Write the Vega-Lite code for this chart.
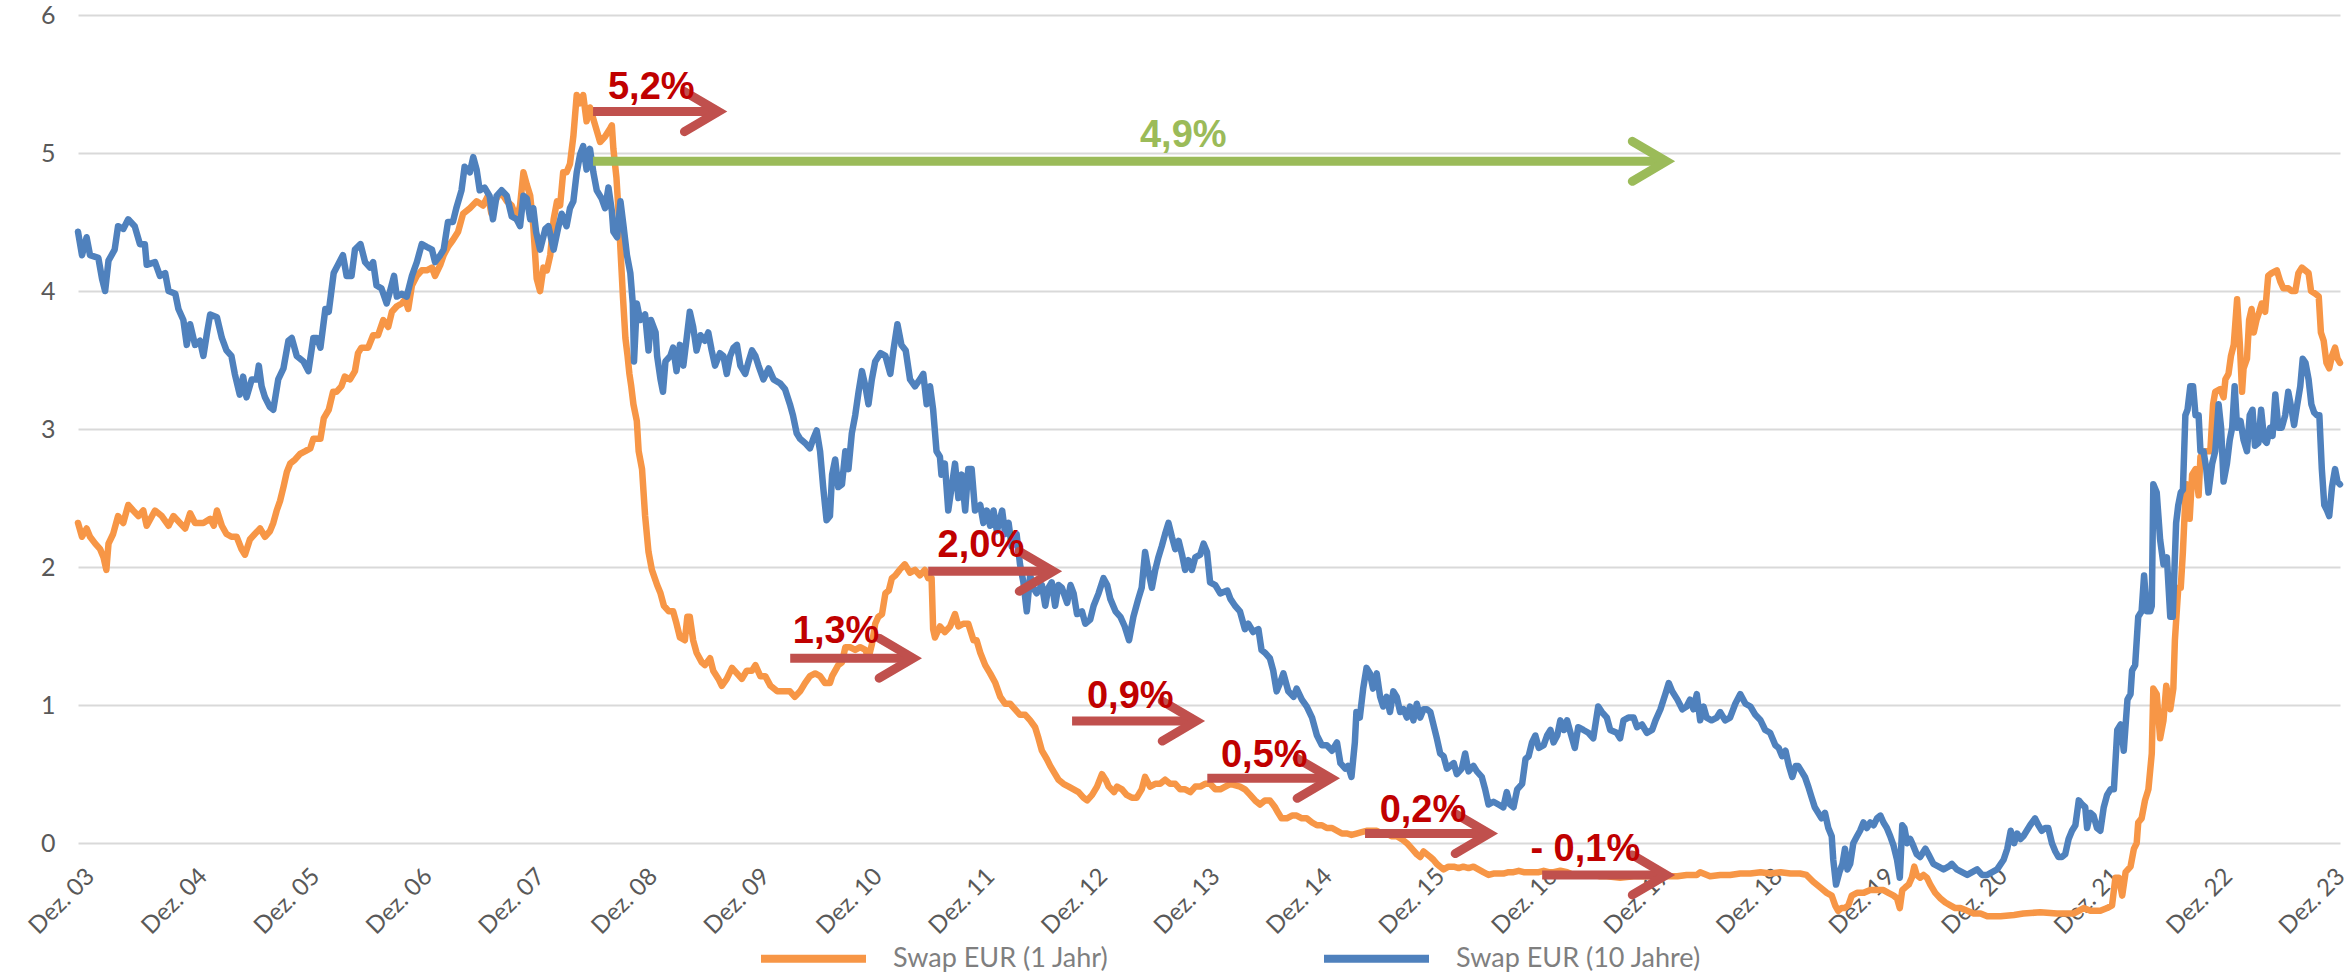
{
"$schema":"https://vega.github.io/schema/vega-lite/v6.json",
"width":2262,"height":911,
"autosize":{"type":"none"},
"padding":{"left":78,"top":15,"right":11,"bottom":49},
"background":"white",
"config":{"view":{"stroke":null},"font":"Lato"},
"datasets":{
"o":[
{"d":"2003-11-18","v":2.32},{"d":"2003-12-01","v":2.22},{"d":"2003-12-16","v":2.28},{"d":"2003-12-27","v":2.22},{"d":"2004-01-13","v":2.17},{"d":"2004-01-29","v":2.13},{"d":"2004-02-09","v":2.07},{"d":"2004-02-18","v":1.98},{"d":"2004-02-25","v":2.17},{"d":"2004-03-11","v":2.24},{"d":"2004-03-27","v":2.37},{"d":"2004-04-13","v":2.32},{"d":"2004-04-29","v":2.45},{"d":"2004-05-15","v":2.41},{"d":"2004-06-01","v":2.37},{"d":"2004-06-17","v":2.41},{"d":"2004-06-28","v":2.30},{"d":"2004-07-25","v":2.41},{"d":"2004-08-16","v":2.37},{"d":"2004-09-07","v":2.30},{"d":"2004-09-23","v":2.37},{"d":"2004-10-14","v":2.32},{"d":"2004-10-31","v":2.28},{"d":"2004-11-16","v":2.39},{"d":"2004-12-02","v":2.32},{"d":"2004-12-29","v":2.32},{"d":"2005-01-20","v":2.35},{"d":"2005-02-01","v":2.30},{"d":"2005-02-11","v":2.41},{"d":"2005-02-27","v":2.30},{"d":"2005-03-14","v":2.24},{"d":"2005-03-30","v":2.22},{"d":"2005-04-16","v":2.22},{"d":"2005-05-02","v":2.13},{"d":"2005-05-13","v":2.09},{"d":"2005-05-29","v":2.20},{"d":"2005-06-14","v":2.24},{"d":"2005-07-01","v":2.28},{"d":"2005-07-17","v":2.22},{"d":"2005-08-02","v":2.26},{"d":"2005-08-13","v":2.32},{"d":"2005-08-24","v":2.41},{"d":"2005-09-04","v":2.48},{"d":"2005-09-15","v":2.58},{"d":"2005-09-26","v":2.69},{"d":"2005-10-07","v":2.75},{"d":"2005-10-23","v":2.78},{"d":"2005-11-08","v":2.82},{"d":"2005-11-25","v":2.84},{"d":"2005-12-11","v":2.86},{"d":"2005-12-21","v":2.93},{"d":"2006-01-13","v":2.93},{"d":"2006-01-24","v":3.08},{"d":"2006-02-09","v":3.14},{"d":"2006-02-23","v":3.27},{"d":"2006-03-06","v":3.27},{"d":"2006-03-22","v":3.31},{"d":"2006-04-02","v":3.38},{"d":"2006-04-19","v":3.36},{"d":"2006-05-05","v":3.42},{"d":"2006-05-15","v":3.55},{"d":"2006-05-26","v":3.59},{"d":"2006-06-17","v":3.59},{"d":"2006-07-03","v":3.68},{"d":"2006-07-19","v":3.68},{"d":"2006-08-05","v":3.79},{"d":"2006-08-21","v":3.74},{"d":"2006-09-02","v":3.85},{"d":"2006-09-18","v":3.89},{"d":"2006-10-04","v":3.91},{"d":"2006-10-15","v":3.94},{"d":"2006-10-25","v":3.87},{"d":"2006-11-06","v":4.04},{"d":"2006-11-22","v":4.11},{"d":"2006-12-08","v":4.15},{"d":"2006-12-24","v":4.15},{"d":"2007-01-10","v":4.17},{"d":"2007-01-20","v":4.11},{"d":"2007-02-06","v":4.19},
{"d":"2007-02-17","v":4.26},{"d":"2007-03-03","v":4.32},{"d":"2007-03-19","v":4.37},{"d":"2007-04-05","v":4.43},{"d":"2007-04-21","v":4.56},{"d":"2007-05-13","v":4.60},{"d":"2007-06-04","v":4.65},{"d":"2007-06-25","v":4.62},{"d":"2007-07-11","v":4.69},{"d":"2007-07-22","v":4.56},{"d":"2007-08-02","v":4.65},{"d":"2007-08-13","v":4.69},{"d":"2007-08-24","v":4.71},{"d":"2007-09-10","v":4.65},{"d":"2007-09-26","v":4.62},{"d":"2007-10-12","v":4.52},{"d":"2007-10-23","v":4.62},{"d":"2007-11-03","v":4.86},{"d":"2007-11-14","v":4.77},{"d":"2007-11-25","v":4.69},{"d":"2007-12-05","v":4.47},{"d":"2007-12-16","v":4.09},{"d":"2007-12-27","v":4.00},{"d":"2008-01-07","v":4.17},{"d":"2008-01-18","v":4.15},{"d":"2008-01-29","v":4.26},{"d":"2008-02-09","v":4.52},{"d":"2008-02-20","v":4.65},{"d":"2008-03-01","v":4.62},{"d":"2008-03-11","v":4.86},{"d":"2008-03-22","v":4.86},{"d":"2008-04-02","v":4.92},{"d":"2008-04-13","v":5.12},{"d":"2008-04-24","v":5.42},{"d":"2008-05-05","v":5.36},{"d":"2008-05-15","v":5.42},{"d":"2008-05-26","v":5.23},{"d":"2008-06-06","v":5.33},{"d":"2008-06-23","v":5.20},{"d":"2008-07-09","v":5.08},{"d":"2008-07-25","v":5.12},{"d":"2008-08-11","v":5.18},{"d":"2008-08-16","v":5.20},{"d":"2008-08-21","v":5.03},{"d":"2008-08-31","v":4.82},{"d":"2008-09-07","v":4.56},{"d":"2008-09-13","v":4.30},{"d":"2008-09-21","v":3.96},{"d":"2008-09-29","v":3.66},{"d":"2008-10-06","v":3.53},{"d":"2008-10-12","v":3.40},{"d":"2008-10-18","v":3.31},{"d":"2008-10-25","v":3.18},{"d":"2008-11-05","v":3.06},{"d":"2008-11-11","v":2.84},{"d":"2008-11-22","v":2.71},{"d":"2008-12-02","v":2.37},{"d":"2008-12-13","v":2.11},{"d":"2008-12-24","v":1.98},{"d":"2009-01-10","v":1.87},{"d":"2009-01-21","v":1.81},{"d":"2009-02-01","v":1.72},{"d":"2009-02-17","v":1.68},{"d":"2009-03-03","v":1.68},{"d":"2009-03-14","v":1.59},{"d":"2009-03-25","v":1.49},{"d":"2009-04-10","v":1.47},{"d":"2009-04-18","v":1.64},{"d":"2009-04-26","v":1.64},{"d":"2009-05-07","v":1.47},{"d":"2009-05-18","v":1.38},{"d":"2009-06-04","v":1.31},{"d":"2009-06-14","v":1.29},{"d":"2009-07-01","v":1.34},{"d":"2009-07-11","v":1.25},{"d":"2009-07-28","v":1.19},{"d":"2009-08-08","v":1.14},{"d":"2009-08-24","v":1.19},{"d":"2009-09-10","v":1.27},{"d":"2009-09-26","v":1.23},{"d":"2009-10-12","v":1.19},{"d":"2009-10-28","v":1.25},{"d":"2009-11-14","v":1.25},{"d":"2009-11-25","v":1.29},{"d":"2009-12-11","v":1.21},{"d":"2009-12-27","v":1.21},{"d":"2010-01-13","v":1.14},{"d":"2010-02-04","v":1.10},{"d":"2010-02-25","v":1.10},{"d":"2010-03-17","v":1.10},{"d":"2010-04-02","v":1.06},{"d":"2010-04-19","v":1.10},{"d":"2010-05-05","v":1.16},{"d":"2010-05-21","v":1.21},{"d":"2010-06-07","v":1.23},{"d":"2010-06-23","v":1.21},{"d":"2010-07-09","v":1.16},{"d":"2010-07-25","v":1.16},
{"d":"2010-08-01","v":1.21},{"d":"2010-08-11","v":1.25},{"d":"2010-08-21","v":1.29},{"d":"2010-09-02","v":1.31},{"d":"2010-09-13","v":1.42},{"d":"2010-09-28","v":1.42},{"d":"2010-10-15","v":1.40},{"d":"2010-10-31","v":1.42},{"d":"2010-11-17","v":1.40},{"d":"2010-11-27","v":1.34},{"d":"2010-12-08","v":1.44},{"d":"2010-12-19","v":1.59},{"d":"2010-12-29","v":1.64},{"d":"2011-01-10","v":1.66},{"d":"2011-01-21","v":1.81},{"d":"2011-02-01","v":1.83},{"d":"2011-02-11","v":1.92},{"d":"2011-02-22","v":1.94},{"d":"2011-03-08","v":1.98},{"d":"2011-03-25","v":2.02},{"d":"2011-04-11","v":1.96},{"d":"2011-04-27","v":1.98},{"d":"2011-05-13","v":1.94},{"d":"2011-05-29","v":1.98},{"d":"2011-06-09","v":1.92},{"d":"2011-06-20","v":1.92},{"d":"2011-06-25","v":1.55},{"d":"2011-07-01","v":1.49},{"d":"2011-07-17","v":1.57},{"d":"2011-08-02","v":1.53},{"d":"2011-08-19","v":1.57},{"d":"2011-09-04","v":1.66},{"d":"2011-09-15","v":1.57},{"d":"2011-10-01","v":1.59},{"d":"2011-10-17","v":1.59},{"d":"2011-11-03","v":1.47},{"d":"2011-11-13","v":1.47},{"d":"2011-11-25","v":1.38},{"d":"2011-12-11","v":1.29},{"d":"2011-12-27","v":1.23},{"d":"2012-01-13","v":1.16},{"d":"2012-01-29","v":1.06},{"d":"2012-02-14","v":1.01},{"d":"2012-03-01","v":1.01},{"d":"2012-03-17","v":0.97},{"d":"2012-04-02","v":0.93},{"d":"2012-04-19","v":0.93},{"d":"2012-05-05","v":0.89},{"d":"2012-05-21","v":0.84},{"d":"2012-06-01","v":0.76},{"d":"2012-06-12","v":0.67},{"d":"2012-06-28","v":0.61},{"d":"2012-07-09","v":0.56},{"d":"2012-07-25","v":0.50},{"d":"2012-08-05","v":0.46},{"d":"2012-08-21","v":0.43},{"d":"2012-09-07","v":0.41},{"d":"2012-09-23","v":0.39},{"d":"2012-10-09","v":0.37},{"d":"2012-10-25","v":0.33},{"d":"2012-11-06","v":0.31},{"d":"2012-11-22","v":0.35},{"d":"2012-12-08","v":0.41},{"d":"2012-12-24","v":0.50},{"d":"2013-01-05","v":0.46},{"d":"2013-01-15","v":0.41},{"d":"2013-02-01","v":0.37},{"d":"2013-02-11","v":0.41},{"d":"2013-02-27","v":0.39},{"d":"2013-03-14","v":0.35},{"d":"2013-03-31","v":0.33},{"d":"2013-04-16","v":0.33},{"d":"2013-05-02","v":0.39},{"d":"2013-05-13","v":0.48},{"d":"2013-05-29","v":0.41},{"d":"2013-06-15","v":0.43},{"d":"2013-07-01","v":0.43},{"d":"2013-07-17","v":0.46},{"d":"2013-08-02","v":0.43},{"d":"2013-08-19","v":0.43},{"d":"2013-09-04","v":0.39},{"d":"2013-09-20","v":0.39},{"d":"2013-10-07","v":0.37},{"d":"2013-10-23","v":0.41},{"d":"2013-11-08","v":0.41},{"d":"2013-11-24","v":0.43},{"d":"2013-12-10","v":0.43},{"d":"2013-12-27","v":0.39},{"d":"2014-01-12","v":0.39},
{"d":"2014-02-14","v":0.43},{"d":"2014-03-17","v":0.41},{"d":"2014-04-02","v":0.39},{"d":"2014-04-19","v":0.35},{"d":"2014-05-05","v":0.31},{"d":"2014-05-21","v":0.28},{"d":"2014-06-06","v":0.31},{"d":"2014-06-22","v":0.31},{"d":"2014-07-09","v":0.26},{"d":"2014-07-19","v":0.22},{"d":"2014-07-30","v":0.18},{"d":"2014-08-16","v":0.18},{"d":"2014-09-02","v":0.20},{"d":"2014-09-17","v":0.20},{"d":"2014-10-04","v":0.18},{"d":"2014-10-20","v":0.18},{"d":"2014-11-06","v":0.15},{"d":"2014-11-22","v":0.13},{"d":"2014-12-08","v":0.13},{"d":"2014-12-24","v":0.11},{"d":"2015-01-10","v":0.11},{"d":"2015-01-26","v":0.09},{"d":"2015-02-11","v":0.07},{"d":"2015-02-28","v":0.07},{"d":"2015-03-14","v":0.06},{"d":"2015-03-30","v":0.07},{"d":"2015-04-16","v":0.08},{"d":"2015-05-02","v":0.09},{"d":"2015-05-18","v":0.09},{"d":"2015-06-04","v":0.09},{"d":"2015-06-20","v":0.07},{"d":"2015-07-06","v":0.07},{"d":"2015-07-22","v":0.05},{"d":"2015-08-08","v":0.05},{"d":"2015-08-24","v":0.03},{"d":"2015-09-10","v":0.00},{"d":"2015-09-26","v":-0.04},{"d":"2015-10-12","v":-0.08},{"d":"2015-10-23","v":-0.10},{"d":"2015-11-03","v":-0.06},{"d":"2015-11-14","v":-0.08},{"d":"2015-11-25","v":-0.10},{"d":"2015-12-05","v":-0.12},{"d":"2015-12-16","v":-0.15},{"d":"2015-12-27","v":-0.17},{"d":"2016-01-07","v":-0.19},{"d":"2016-01-23","v":-0.17},{"d":"2016-02-09","v":-0.17},{"d":"2016-02-25","v":-0.18},{"d":"2016-03-11","v":-0.17},{"d":"2016-03-28","v":-0.18},{"d":"2016-04-13","v":-0.17},{"d":"2016-04-29","v":-0.19},{"d":"2016-05-15","v":-0.21},{"d":"2016-06-01","v":-0.23},{"d":"2016-06-17","v":-0.22},{"d":"2016-07-03","v":-0.22},{"d":"2016-07-19","v":-0.22},{"d":"2016-08-05","v":-0.21},{"d":"2016-08-21","v":-0.21},{"d":"2016-09-07","v":-0.20},{"d":"2016-09-23","v":-0.21},{"d":"2016-10-09","v":-0.21},{"d":"2016-10-25","v":-0.21},{"d":"2016-11-11","v":-0.21},{"d":"2016-11-27","v":-0.20},{"d":"2016-12-13","v":-0.21},{"d":"2016-12-29","v":-0.21},{"d":"2017-01-20","v":-0.20},{"d":"2017-02-11","v":-0.21},{"d":"2017-03-03","v":-0.23},{"d":"2017-03-25","v":-0.23},{"d":"2017-04-16","v":-0.23},{"d":"2017-05-07","v":-0.23},{"d":"2017-05-29","v":-0.24},{"d":"2017-06-20","v":-0.24},
{"d":"2017-08-02","v":-0.25},{"d":"2017-09-15","v":-0.24},{"d":"2017-10-17","v":-0.24},{"d":"2017-11-20","v":-0.24},{"d":"2018-01-02","v":-0.24},{"d":"2018-02-04","v":-0.24},{"d":"2018-03-06","v":-0.23},{"d":"2018-04-08","v":-0.23},{"d":"2018-04-19","v":-0.21},{"d":"2018-05-21","v":-0.24},{"d":"2018-06-23","v":-0.23},{"d":"2018-07-25","v":-0.23},{"d":"2018-08-27","v":-0.22},{"d":"2018-09-29","v":-0.22},{"d":"2018-11-01","v":-0.21},{"d":"2018-12-02","v":-0.22},{"d":"2019-01-05","v":-0.21},{"d":"2019-02-06","v":-0.22},{"d":"2019-03-09","v":-0.22},{"d":"2019-03-30","v":-0.23},{"d":"2019-04-21","v":-0.28},{"d":"2019-05-13","v":-0.32},{"d":"2019-06-04","v":-0.36},{"d":"2019-06-20","v":-0.38},{"d":"2019-07-01","v":-0.45},{"d":"2019-07-11","v":-0.49},{"d":"2019-07-22","v":-0.47},{"d":"2019-08-02","v":-0.47},{"d":"2019-08-13","v":-0.45},{"d":"2019-08-24","v":-0.38},{"d":"2019-09-10","v":-0.36},{"d":"2019-10-01","v":-0.36},{"d":"2019-10-23","v":-0.34},{"d":"2019-11-14","v":-0.34},{"d":"2019-12-05","v":-0.34},{"d":"2019-12-21","v":-0.36},{"d":"2020-01-07","v":-0.38},{"d":"2020-01-18","v":-0.40},{"d":"2020-01-27","v":-0.47},{"d":"2020-02-04","v":-0.34},{"d":"2020-02-14","v":-0.32},{"d":"2020-02-25","v":-0.30},{"d":"2020-03-06","v":-0.25},{"d":"2020-03-14","v":-0.17},{"d":"2020-03-22","v":-0.23},{"d":"2020-04-02","v":-0.25},{"d":"2020-04-13","v":-0.23},{"d":"2020-04-24","v":-0.25},{"d":"2020-05-05","v":-0.30},{"d":"2020-05-21","v":-0.36},{"d":"2020-06-07","v":-0.40},{"d":"2020-06-23","v":-0.43},{"d":"2020-07-09","v":-0.45},{"d":"2020-07-25","v":-0.47},{"d":"2020-08-11","v":-0.47},{"d":"2020-09-02","v":-0.49},{"d":"2020-09-23","v":-0.51},{"d":"2020-10-15","v":-0.51},{"d":"2020-11-06","v":-0.53},{"d":"2020-11-27","v":-0.53},{"d":"2020-12-19","v":-0.53},
{"d":"2021-02-01","v":-0.52},{"d":"2021-03-03","v":-0.51},{"d":"2021-04-27","v":-0.50},{"d":"2021-06-20","v":-0.51},{"d":"2021-08-13","v":-0.51},{"d":"2021-09-15","v":-0.47},{"d":"2021-10-07","v":-0.49},{"d":"2021-11-08","v":-0.49},{"d":"2021-11-30","v":-0.47},{"d":"2021-12-16","v":-0.45},{"d":"2021-12-27","v":-0.25},{"d":"2022-01-07","v":-0.25},{"d":"2022-01-18","v":-0.38},{"d":"2022-01-29","v":-0.21},{"d":"2022-02-14","v":-0.17},{"d":"2022-02-25","v":-0.04},{"d":"2022-03-06","v":0.00},{"d":"2022-03-11","v":0.15},{"d":"2022-03-22","v":0.18},{"d":"2022-04-02","v":0.31},{"d":"2022-04-13","v":0.39},{"d":"2022-04-24","v":0.65},{"d":"2022-04-29","v":1.12},{"d":"2022-05-10","v":1.08},{"d":"2022-05-21","v":0.76},{"d":"2022-06-01","v":0.89},{"d":"2022-06-10","v":1.14},{"d":"2022-06-23","v":0.97},{"d":"2022-07-03","v":1.12},{"d":"2022-07-08","v":1.47},{"d":"2022-07-19","v":1.85},{"d":"2022-07-27","v":1.85},{"d":"2022-08-03","v":2.11},{"d":"2022-08-11","v":2.50},{"d":"2022-08-16","v":2.60},{"d":"2022-08-25","v":2.35},{"d":"2022-09-02","v":2.67},{"d":"2022-09-13","v":2.71},{"d":"2022-09-23","v":2.52},{"d":"2022-09-29","v":2.80},{"d":"2022-10-15","v":2.84},{"d":"2022-10-31","v":2.84},{"d":"2022-11-09","v":3.18},{"d":"2022-11-16","v":3.27},{"d":"2022-12-02","v":3.29},{"d":"2022-12-13","v":3.23},{"d":"2022-12-19","v":3.36},{"d":"2022-12-29","v":3.40},{"d":"2023-01-06","v":3.53},{"d":"2023-01-15","v":3.61},{"d":"2023-01-26","v":3.94},{"d":"2023-02-04","v":3.61},{"d":"2023-02-11","v":3.27},{"d":"2023-02-16","v":3.44},{"d":"2023-02-27","v":3.51},{"d":"2023-03-06","v":3.79},{"d":"2023-03-14","v":3.87},{"d":"2023-03-21","v":3.70},{"d":"2023-03-30","v":3.79},{"d":"2023-04-08","v":3.85},{"d":"2023-04-16","v":3.91},{"d":"2023-04-27","v":3.85},{"d":"2023-05-07","v":4.11},{"d":"2023-05-18","v":4.13},{"d":"2023-06-04","v":4.15},{"d":"2023-06-15","v":4.07},{"d":"2023-06-25","v":4.02},{"d":"2023-07-11","v":4.02},{"d":"2023-07-22","v":4.00},{"d":"2023-08-03","v":4.00},{"d":"2023-08-13","v":4.13},{"d":"2023-08-24","v":4.17},{"d":"2023-09-04","v":4.15},{"d":"2023-09-15","v":4.13},{"d":"2023-09-23","v":4.00},{"d":"2023-10-07","v":3.98},{"d":"2023-10-18","v":3.96},{"d":"2023-10-25","v":3.70},{"d":"2023-11-03","v":3.64},{"d":"2023-11-12","v":3.48},{"d":"2023-11-21","v":3.44},{"d":"2023-11-30","v":3.53},{"d":"2023-12-10","v":3.59},{"d":"2023-12-18","v":3.51},{"d":"2023-12-26","v":3.48}
],
"b":[
{"d":"2003-11-18","v":4.43},{"d":"2003-12-01","v":4.26},{"d":"2003-12-16","v":4.39},{"d":"2003-12-27","v":4.26},{"d":"2004-01-23","v":4.24},{"d":"2004-02-04","v":4.09},{"d":"2004-02-14","v":4.00},{"d":"2004-02-25","v":4.22},{"d":"2004-03-16","v":4.30},{"d":"2004-03-27","v":4.47},{"d":"2004-04-13","v":4.45},{"d":"2004-04-29","v":4.52},{"d":"2004-05-20","v":4.47},{"d":"2004-06-06","v":4.34},{"d":"2004-06-22","v":4.34},{"d":"2004-06-28","v":4.19},{"d":"2004-07-25","v":4.21},{"d":"2004-08-10","v":4.11},{"d":"2004-08-27","v":4.13},{"d":"2004-09-07","v":4.00},{"d":"2004-09-29","v":3.98},{"d":"2004-10-09","v":3.87},{"d":"2004-10-25","v":3.79},{"d":"2004-11-05","v":3.61},{"d":"2004-11-16","v":3.76},{"d":"2004-12-02","v":3.61},{"d":"2004-12-18","v":3.64},{"d":"2004-12-29","v":3.53},{"d":"2005-01-10","v":3.70},{"d":"2005-01-20","v":3.83},{"d":"2005-02-11","v":3.81},{"d":"2005-02-27","v":3.66},{"d":"2005-03-14","v":3.57},{"d":"2005-03-30","v":3.53},{"d":"2005-04-10","v":3.40},{"d":"2005-04-26","v":3.25},{"d":"2005-05-07","v":3.38},{"d":"2005-05-18","v":3.23},{"d":"2005-06-04","v":3.36},{"d":"2005-06-20","v":3.36},{"d":"2005-06-27","v":3.46},{"d":"2005-07-06","v":3.31},{"d":"2005-07-17","v":3.23},{"d":"2005-08-02","v":3.16},{"d":"2005-08-13","v":3.14},{"d":"2005-08-29","v":3.36},{"d":"2005-09-15","v":3.44},{"d":"2005-10-01","v":3.64},{"d":"2005-10-12","v":3.66},{"d":"2005-10-28","v":3.53},{"d":"2005-11-19","v":3.49},{"d":"2005-12-05","v":3.42},{"d":"2005-12-21","v":3.66},{"d":"2006-01-02","v":3.66},{"d":"2006-01-13","v":3.59},{"d":"2006-01-29","v":3.87},{"d":"2006-02-09","v":3.85},{"d":"2006-02-25","v":4.13},{"d":"2006-03-11","v":4.19},{"d":"2006-03-27","v":4.26},{"d":"2006-04-08","v":4.11},{"d":"2006-04-24","v":4.11},{"d":"2006-05-05","v":4.30},{"d":"2006-05-23","v":4.34},{"d":"2006-06-07","v":4.21},{"d":"2006-06-23","v":4.17},{"d":"2006-07-03","v":4.21},{"d":"2006-07-14","v":4.04},{"d":"2006-07-30","v":4.02},{"d":"2006-08-16","v":3.91},{"d":"2006-08-27","v":4.00},{"d":"2006-09-09","v":4.11},{"d":"2006-09-18","v":3.96},{"d":"2006-10-04","v":3.98},{"d":"2006-10-20","v":3.96},{"d":"2006-11-06","v":4.11},{"d":"2006-11-22","v":4.21},{"d":"2006-12-08","v":4.34},{"d":"2006-12-24","v":4.32},{"d":"2007-01-10","v":4.30},{"d":"2007-01-20","v":4.21},{"d":"2007-02-06","v":4.26},
{"d":"2007-02-17","v":4.30},{"d":"2007-03-03","v":4.50},{"d":"2007-03-19","v":4.50},{"d":"2007-03-30","v":4.60},{"d":"2007-04-16","v":4.73},{"d":"2007-04-26","v":4.90},{"d":"2007-05-13","v":4.86},{"d":"2007-05-24","v":4.97},{"d":"2007-06-04","v":4.88},{"d":"2007-06-14","v":4.73},{"d":"2007-06-30","v":4.75},{"d":"2007-07-16","v":4.69},{"d":"2007-07-27","v":4.52},{"d":"2007-08-08","v":4.69},{"d":"2007-08-24","v":4.73},{"d":"2007-09-10","v":4.69},{"d":"2007-09-26","v":4.54},{"d":"2007-10-12","v":4.52},{"d":"2007-10-23","v":4.47},{"d":"2007-11-03","v":4.69},{"d":"2007-11-14","v":4.67},{"d":"2007-11-25","v":4.52},{"d":"2007-12-05","v":4.60},{"d":"2007-12-14","v":4.43},{"d":"2007-12-27","v":4.30},{"d":"2008-01-13","v":4.45},{"d":"2008-01-23","v":4.47},{"d":"2008-02-09","v":4.30},{"d":"2008-02-25","v":4.47},{"d":"2008-03-06","v":4.56},{"d":"2008-03-22","v":4.47},{"d":"2008-04-02","v":4.60},{"d":"2008-04-13","v":4.65},{"d":"2008-04-24","v":4.86},{"d":"2008-05-05","v":4.99},{"d":"2008-05-15","v":5.05},{"d":"2008-05-26","v":4.88},{"d":"2008-06-06","v":5.03},{"d":"2008-06-17","v":4.86},{"d":"2008-06-28","v":4.73},{"d":"2008-07-14","v":4.67},{"d":"2008-07-25","v":4.60},{"d":"2008-08-05","v":4.75},{"d":"2008-08-16","v":4.58},{"d":"2008-08-21","v":4.43},{"d":"2008-09-02","v":4.39},{"d":"2008-09-13","v":4.65},{"d":"2008-09-23","v":4.47},{"d":"2008-10-04","v":4.26},{"d":"2008-10-15","v":4.13},{"d":"2008-10-23","v":3.91},{"d":"2008-10-27","v":3.49},{"d":"2008-11-05","v":3.91},{"d":"2008-11-16","v":3.79},{"d":"2008-12-02","v":3.83},{"d":"2008-12-13","v":3.57},{"d":"2008-12-21","v":3.79},{"d":"2009-01-05","v":3.70},{"d":"2009-01-10","v":3.53},{"d":"2009-01-21","v":3.36},{"d":"2009-01-29","v":3.27},{"d":"2009-02-06","v":3.49},{"d":"2009-02-22","v":3.53},{"d":"2009-03-03","v":3.59},{"d":"2009-03-14","v":3.42},{"d":"2009-03-25","v":3.61},{"d":"2009-04-05","v":3.46},{"d":"2009-04-16","v":3.66},{"d":"2009-04-26","v":3.85},{"d":"2009-05-07","v":3.74},{"d":"2009-05-18","v":3.57},{"d":"2009-05-31","v":3.68},{"d":"2009-06-14","v":3.64},{"d":"2009-06-25","v":3.70},{"d":"2009-07-06","v":3.57},{"d":"2009-07-17","v":3.46},{"d":"2009-08-02","v":3.55},{"d":"2009-08-13","v":3.53},{"d":"2009-08-24","v":3.40},{"d":"2009-09-04","v":3.53},{"d":"2009-09-15","v":3.59},{"d":"2009-09-26","v":3.61},{"d":"2009-10-07","v":3.46},{"d":"2009-10-23","v":3.40},{"d":"2009-11-03","v":3.49},{"d":"2009-11-14","v":3.57},{"d":"2009-11-25","v":3.53},{"d":"2009-12-05","v":3.46},{"d":"2009-12-21","v":3.36},{"d":"2010-01-07","v":3.44},{"d":"2010-01-23","v":3.36},{"d":"2010-02-14","v":3.33},{"d":"2010-03-01","v":3.29},{"d":"2010-03-17","v":3.18},{"d":"2010-03-27","v":3.10},{"d":"2010-04-08","v":2.97},{"d":"2010-04-19","v":2.93},{"d":"2010-05-05","v":2.90},{"d":"2010-05-21","v":2.86},{"d":"2010-06-01","v":2.93},{"d":"2010-06-12","v":2.99},{"d":"2010-06-23","v":2.84},{"d":"2010-07-03","v":2.58},{"d":"2010-07-14","v":2.34},{"d":"2010-07-25","v":2.37},
{"d":"2010-08-01","v":2.67},{"d":"2010-08-11","v":2.78},{"d":"2010-08-21","v":2.58},{"d":"2010-09-02","v":2.60},{"d":"2010-09-13","v":2.84},{"d":"2010-09-23","v":2.71},{"d":"2010-10-04","v":2.97},{"d":"2010-10-15","v":3.10},{"d":"2010-10-26","v":3.27},{"d":"2010-11-06","v":3.42},{"d":"2010-11-17","v":3.31},{"d":"2010-11-27","v":3.18},{"d":"2010-12-08","v":3.36},{"d":"2010-12-19","v":3.49},{"d":"2011-01-05","v":3.55},{"d":"2011-01-21","v":3.53},{"d":"2011-02-06","v":3.40},{"d":"2011-02-16","v":3.57},{"d":"2011-03-01","v":3.76},{"d":"2011-03-14","v":3.61},{"d":"2011-03-28","v":3.57},{"d":"2011-04-11","v":3.36},{"d":"2011-04-27","v":3.31},{"d":"2011-05-13","v":3.36},{"d":"2011-05-24","v":3.40},{"d":"2011-06-04","v":3.18},{"d":"2011-06-15","v":3.31},{"d":"2011-06-25","v":3.14},{"d":"2011-07-06","v":2.84},{"d":"2011-07-17","v":2.80},{"d":"2011-07-22","v":2.67},{"d":"2011-08-02","v":2.75},{"d":"2011-08-13","v":2.41},{"d":"2011-08-24","v":2.58},{"d":"2011-09-04","v":2.75},{"d":"2011-09-15","v":2.50},{"d":"2011-09-26","v":2.67},{"d":"2011-10-07","v":2.41},{"d":"2011-10-17","v":2.71},{"d":"2011-10-28","v":2.71},{"d":"2011-11-08","v":2.41},{"d":"2011-11-25","v":2.45},{"d":"2011-12-05","v":2.32},{"d":"2011-12-16","v":2.41},{"d":"2011-12-27","v":2.30},{"d":"2012-01-07","v":2.41},{"d":"2012-01-18","v":2.26},{"d":"2012-02-04","v":2.41},{"d":"2012-02-14","v":2.24},{"d":"2012-02-25","v":2.32},{"d":"2012-03-06","v":2.15},{"d":"2012-03-22","v":2.24},{"d":"2012-04-02","v":2.02},{"d":"2012-04-13","v":1.89},{"d":"2012-04-24","v":1.68},{"d":"2012-05-05","v":1.94},{"d":"2012-05-15","v":1.85},{"d":"2012-05-26","v":1.81},{"d":"2012-06-12","v":1.87},{"d":"2012-06-23","v":1.72},{"d":"2012-07-03","v":1.85},{"d":"2012-07-14","v":1.89},{"d":"2012-07-25","v":1.72},{"d":"2012-08-05","v":1.87},{"d":"2012-08-16","v":1.85},{"d":"2012-09-02","v":1.74},{"d":"2012-09-13","v":1.87},{"d":"2012-09-23","v":1.81},{"d":"2012-10-04","v":1.66},{"d":"2012-10-20","v":1.68},{"d":"2012-10-31","v":1.59},{"d":"2012-11-16","v":1.62},{"d":"2012-11-27","v":1.72},{"d":"2012-12-13","v":1.81},{"d":"2012-12-29","v":1.92},{"d":"2013-01-10","v":1.87},{"d":"2013-01-20","v":1.77},{"d":"2013-02-06","v":1.68},{"d":"2013-02-22","v":1.64},{"d":"2013-03-08","v":1.57},{"d":"2013-03-22","v":1.47},{"d":"2013-04-05","v":1.64},{"d":"2013-04-21","v":1.77},{"d":"2013-05-02","v":1.85},{"d":"2013-05-13","v":2.11},{"d":"2013-05-23","v":1.98},{"d":"2013-06-04","v":1.85},{"d":"2013-06-15","v":1.98},{"d":"2013-06-25","v":2.07},{"d":"2013-07-06","v":2.15},{"d":"2013-07-17","v":2.24},{"d":"2013-07-28","v":2.32},{"d":"2013-08-08","v":2.22},{"d":"2013-08-19","v":2.13},{"d":"2013-08-30","v":2.19},{"d":"2013-09-10","v":2.09},{"d":"2013-09-20","v":1.98},{"d":"2013-10-01","v":2.05},{"d":"2013-10-12","v":1.98},{"d":"2013-10-23","v":2.07},{"d":"2013-11-08","v":2.09},{"d":"2013-11-19","v":2.17},{"d":"2013-11-30","v":2.11},{"d":"2013-12-10","v":1.89},{"d":"2013-12-27","v":1.87},{"d":"2014-01-12","v":1.81},
{"d":"2014-02-04","v":1.83},{"d":"2014-02-14","v":1.77},{"d":"2014-03-01","v":1.72},{"d":"2014-03-17","v":1.68},{"d":"2014-04-02","v":1.55},{"d":"2014-04-13","v":1.59},{"d":"2014-04-29","v":1.53},{"d":"2014-05-16","v":1.55},{"d":"2014-05-26","v":1.40},{"d":"2014-06-06","v":1.38},{"d":"2014-06-22","v":1.34},{"d":"2014-07-03","v":1.25},{"d":"2014-07-14","v":1.10},{"d":"2014-07-25","v":1.16},{"d":"2014-08-05","v":1.23},{"d":"2014-08-21","v":1.10},{"d":"2014-09-07","v":1.06},{"d":"2014-09-17","v":1.12},{"d":"2014-10-04","v":1.04},{"d":"2014-10-20","v":0.99},{"d":"2014-11-06","v":0.91},{"d":"2014-11-22","v":0.78},{"d":"2014-12-08","v":0.71},{"d":"2014-12-24","v":0.71},{"d":"2015-01-10","v":0.67},{"d":"2015-01-26","v":0.73},{"d":"2015-02-06","v":0.58},{"d":"2015-02-22","v":0.54},{"d":"2015-03-03","v":0.56},{"d":"2015-03-14","v":0.48},{"d":"2015-03-25","v":0.73},{"d":"2015-03-30","v":0.95},{"d":"2015-04-10","v":0.91},{"d":"2015-04-21","v":1.12},{"d":"2015-05-02","v":1.27},{"d":"2015-05-13","v":1.23},{"d":"2015-05-23","v":1.12},{"d":"2015-06-04","v":1.23},{"d":"2015-06-15","v":1.06},{"d":"2015-06-25","v":0.99},{"d":"2015-07-06","v":1.06},{"d":"2015-07-17","v":0.95},{"d":"2015-07-28","v":1.10},{"d":"2015-08-08","v":1.06},{"d":"2015-08-19","v":0.95},{"d":"2015-08-30","v":0.97},{"d":"2015-09-10","v":0.91},{"d":"2015-09-20","v":0.99},{"d":"2015-10-01","v":0.89},{"d":"2015-10-12","v":1.01},{"d":"2015-10-23","v":0.91},{"d":"2015-11-03","v":0.97},{"d":"2015-11-14","v":0.97},{"d":"2015-11-25","v":0.95},{"d":"2015-12-05","v":0.86},{"d":"2015-12-16","v":0.76},{"d":"2015-12-27","v":0.65},{"d":"2016-01-07","v":0.63},{"d":"2016-01-18","v":0.54},{"d":"2016-01-29","v":0.56},{"d":"2016-02-09","v":0.58},{"d":"2016-02-19","v":0.50},{"d":"2016-03-06","v":0.54},{"d":"2016-03-17","v":0.65},{"d":"2016-03-28","v":0.52},{"d":"2016-04-13","v":0.56},{"d":"2016-04-24","v":0.52},{"d":"2016-05-10","v":0.48},{"d":"2016-05-21","v":0.39},{"d":"2016-06-01","v":0.28},{"d":"2016-06-17","v":0.30},{"d":"2016-07-03","v":0.28},{"d":"2016-07-19","v":0.26},{"d":"2016-07-30","v":0.37},{"d":"2016-08-10","v":0.28},{"d":"2016-08-21","v":0.26},{"d":"2016-09-02","v":0.39},{"d":"2016-09-18","v":0.43},{"d":"2016-09-29","v":0.61},{"d":"2016-10-09","v":0.63},{"d":"2016-10-20","v":0.73},{"d":"2016-10-31","v":0.78},{"d":"2016-11-11","v":0.69},{"d":"2016-11-27","v":0.71},{"d":"2016-12-08","v":0.78},{"d":"2016-12-19","v":0.82},{"d":"2016-12-29","v":0.73},{"d":"2017-01-10","v":0.78},{"d":"2017-01-20","v":0.89},{"d":"2017-02-01","v":0.82},{"d":"2017-02-11","v":0.89},{"d":"2017-02-22","v":0.80},{"d":"2017-03-08","v":0.69},{"d":"2017-03-19","v":0.84},{"d":"2017-04-05","v":0.82},{"d":"2017-04-21","v":0.80},{"d":"2017-05-07","v":0.76},{"d":"2017-05-23","v":0.99},{"d":"2017-06-04","v":0.95},{"d":"2017-06-20","v":0.91},{"d":"2017-07-01","v":0.82},
{"d":"2017-07-22","v":0.80},{"d":"2017-08-02","v":0.76},{"d":"2017-08-13","v":0.89},{"d":"2017-08-29","v":0.91},{"d":"2017-09-15","v":0.91},{"d":"2017-09-26","v":0.84},{"d":"2017-10-12","v":0.86},{"d":"2017-10-28","v":0.80},{"d":"2017-11-14","v":0.82},{"d":"2017-11-25","v":0.89},{"d":"2017-12-11","v":0.97},{"d":"2017-12-27","v":1.08},{"d":"2018-01-07","v":1.16},{"d":"2018-01-18","v":1.10},{"d":"2018-02-04","v":1.04},{"d":"2018-02-20","v":0.97},{"d":"2018-03-06","v":0.99},{"d":"2018-03-17","v":1.04},{"d":"2018-03-28","v":0.97},{"d":"2018-04-08","v":1.08},{"d":"2018-04-19","v":0.89},{"d":"2018-04-30","v":0.99},{"d":"2018-05-10","v":0.91},{"d":"2018-05-26","v":0.89},{"d":"2018-06-12","v":0.91},{"d":"2018-06-23","v":0.95},{"d":"2018-07-09","v":0.89},{"d":"2018-07-25","v":0.91},{"d":"2018-08-11","v":1.01},{"d":"2018-08-27","v":1.08},{"d":"2018-09-13","v":1.01},{"d":"2018-09-29","v":0.99},{"d":"2018-10-15","v":0.93},{"d":"2018-11-01","v":0.89},{"d":"2018-11-16","v":0.82},{"d":"2018-12-02","v":0.80},{"d":"2018-12-19","v":0.71},{"d":"2018-12-30","v":0.69},{"d":"2019-01-10","v":0.63},{"d":"2019-01-21","v":0.67},{"d":"2019-02-01","v":0.56},{"d":"2019-02-12","v":0.48},{"d":"2019-02-23","v":0.56},{"d":"2019-03-03","v":0.56},{"d":"2019-03-14","v":0.52},{"d":"2019-03-25","v":0.48},{"d":"2019-04-05","v":0.41},{"d":"2019-04-16","v":0.33},{"d":"2019-04-26","v":0.26},{"d":"2019-05-07","v":0.22},{"d":"2019-05-18","v":0.18},{"d":"2019-05-29","v":0.22},{"d":"2019-06-09","v":0.11},{"d":"2019-06-20","v":0.05},{"d":"2019-06-25","v":-0.12},{"d":"2019-07-04","v":-0.30},{"d":"2019-07-15","v":-0.21},{"d":"2019-07-25","v":-0.15},{"d":"2019-08-02","v":-0.04},{"d":"2019-08-10","v":-0.19},{"d":"2019-08-19","v":-0.15},{"d":"2019-08-29","v":0.00},{"d":"2019-09-10","v":0.05},{"d":"2019-09-20","v":0.09},{"d":"2019-10-01","v":0.15},{"d":"2019-10-12","v":0.11},{"d":"2019-10-23","v":0.15},{"d":"2019-11-03","v":0.13},{"d":"2019-11-14","v":0.18},{"d":"2019-11-25","v":0.20},{"d":"2019-12-05","v":0.15},{"d":"2019-12-16","v":0.11},{"d":"2019-12-27","v":0.05},{"d":"2020-01-07","v":-0.02},{"d":"2020-01-18","v":-0.12},{"d":"2020-01-27","v":-0.25},{"d":"2020-02-04","v":0.13},{"d":"2020-02-11","v":0.11},{"d":"2020-02-20","v":0.00},{"d":"2020-03-01","v":0.03},{"d":"2020-03-11","v":-0.02},{"d":"2020-03-22","v":-0.08},{"d":"2020-04-02","v":-0.10},{"d":"2020-04-19","v":-0.04},{"d":"2020-04-29","v":-0.08},{"d":"2020-05-15","v":-0.15},{"d":"2020-06-01","v":-0.17},{"d":"2020-06-17","v":-0.19},{"d":"2020-07-03","v":-0.17},{"d":"2020-07-14","v":-0.15},{"d":"2020-07-30","v":-0.19},{"d":"2020-08-16","v":-0.21},{"d":"2020-09-02","v":-0.23},{"d":"2020-09-18","v":-0.21},{"d":"2020-10-04","v":-0.19},{"d":"2020-10-20","v":-0.23},{"d":"2020-11-06","v":-0.23},{"d":"2020-11-22","v":-0.21},{"d":"2020-12-08","v":-0.19},
{"d":"2020-12-29","v":-0.12},{"d":"2021-01-10","v":-0.04},{"d":"2021-01-21","v":0.09},{"d":"2021-02-01","v":0.00},{"d":"2021-02-11","v":0.07},{"d":"2021-02-22","v":0.03},{"d":"2021-03-03","v":0.05},{"d":"2021-03-14","v":0.09},{"d":"2021-03-25","v":0.13},{"d":"2021-04-10","v":0.18},{"d":"2021-04-21","v":0.13},{"d":"2021-05-02","v":0.09},{"d":"2021-05-13","v":0.11},{"d":"2021-05-23","v":0.11},{"d":"2021-06-04","v":0.00},{"d":"2021-06-15","v":-0.06},{"d":"2021-06-25","v":-0.10},{"d":"2021-07-06","v":-0.10},{"d":"2021-07-17","v":-0.08},{"d":"2021-07-28","v":0.03},{"d":"2021-08-08","v":0.09},{"d":"2021-08-19","v":0.13},{"d":"2021-08-30","v":0.31},{"d":"2021-09-10","v":0.28},{"d":"2021-09-20","v":0.26},{"d":"2021-09-26","v":0.11},{"d":"2021-10-07","v":0.22},{"d":"2021-10-17","v":0.20},{"d":"2021-10-28","v":0.11},{"d":"2021-11-08","v":0.09},{"d":"2021-11-19","v":0.26},{"d":"2021-11-30","v":0.35},{"d":"2021-12-11","v":0.39},{"d":"2021-12-22","v":0.39},{"d":"2022-01-02","v":0.82},{"d":"2022-01-13","v":0.86},{"d":"2022-01-23","v":0.67},{"d":"2022-02-04","v":1.04},{"d":"2022-02-14","v":1.08},{"d":"2022-02-19","v":1.25},{"d":"2022-03-01","v":1.29},{"d":"2022-03-11","v":1.64},{"d":"2022-03-22","v":1.68},{"d":"2022-03-30","v":1.94},{"d":"2022-04-08","v":1.68},{"d":"2022-04-19","v":1.68},{"d":"2022-04-24","v":1.72},{"d":"2022-04-29","v":2.60},{"d":"2022-05-10","v":2.54},{"d":"2022-05-21","v":2.20},{"d":"2022-06-01","v":2.02},{"d":"2022-06-12","v":2.07},{"d":"2022-06-23","v":1.64},{"d":"2022-07-01","v":1.64},{"d":"2022-07-12","v":2.32},{"d":"2022-07-19","v":2.45},{"d":"2022-07-27","v":2.54},{"d":"2022-08-03","v":2.56},{"d":"2022-08-11","v":3.10},{"d":"2022-08-18","v":3.14},{"d":"2022-08-27","v":3.31},{"d":"2022-09-05","v":3.31},{"d":"2022-09-13","v":3.10},{"d":"2022-09-23","v":3.10},{"d":"2022-09-29","v":2.84},{"d":"2022-10-09","v":2.84},{"d":"2022-10-18","v":2.71},{"d":"2022-10-25","v":2.54},{"d":"2022-11-06","v":2.75},{"d":"2022-11-16","v":2.84},{"d":"2022-11-27","v":3.18},{"d":"2022-12-05","v":3.01},{"d":"2022-12-13","v":2.62},{"d":"2022-12-24","v":2.75},{"d":"2023-01-02","v":2.92},{"d":"2023-01-10","v":3.01},{"d":"2023-01-18","v":3.31},{"d":"2023-01-26","v":3.01},{"d":"2023-02-06","v":3.06},{"d":"2023-02-16","v":2.92},{"d":"2023-02-27","v":2.84},{"d":"2023-03-08","v":3.10},{"d":"2023-03-17","v":3.14},{"d":"2023-03-25","v":2.88},{"d":"2023-04-05","v":2.90},{"d":"2023-04-14","v":3.14},{"d":"2023-04-24","v":2.92},{"d":"2023-05-02","v":2.90},{"d":"2023-05-13","v":3.01},{"d":"2023-05-21","v":2.95},{"d":"2023-05-30","v":3.25},{"d":"2023-06-09","v":3.01},{"d":"2023-06-20","v":3.01},{"d":"2023-07-01","v":3.10},{"d":"2023-07-11","v":3.27},{"d":"2023-07-22","v":3.14},{"d":"2023-07-30","v":3.03},{"d":"2023-08-08","v":3.16},{"d":"2023-08-19","v":3.31},{"d":"2023-08-27","v":3.51},{"d":"2023-09-05","v":3.48},{"d":"2023-09-15","v":3.36},{"d":"2023-09-24","v":3.18},{"d":"2023-10-03","v":3.12},{"d":"2023-10-12","v":3.10},{"d":"2023-10-20","v":3.10},{"d":"2023-10-28","v":2.71},{"d":"2023-11-05","v":2.45},{"d":"2023-11-14","v":2.41},{"d":"2023-11-21","v":2.37},{"d":"2023-11-30","v":2.58},{"d":"2023-12-10","v":2.71},{"d":"2023-12-18","v":2.62},{"d":"2023-12-26","v":2.60}
],
"arrows":[
{"k":"r","s":"2008-06-16","e":"2009-07-28","v":5.30},
{"k":"g","s":"2008-06-16","e":"2017-12-30","v":4.94},
{"k":"r","s":"2010-03-18","e":"2011-04-21","v":1.34},
{"k":"r","s":"2011-06-09","e":"2012-07-19","v":1.97},
{"k":"r","s":"2012-09-18","e":"2013-10-26","v":0.885},
{"k":"r","s":"2013-12-01","e":"2015-01-07","v":0.47},
{"k":"r","s":"2015-04-27","e":"2016-06-03","v":0.07},
{"k":"r","s":"2016-11-22","e":"2017-12-30","v":-0.23}
],
"labels":[
{"k":"r","d":"2008-12-22","v":5.47,"t":"5,2%"},
{"k":"g","d":"2013-09-14","v":5.12,"t":"4,9%"},
{"k":"r","d":"2010-08-14","v":1.53,"t":"1,3%"},
{"k":"r","d":"2011-11-27","v":2.15,"t":"2,0%"},
{"k":"r","d":"2013-03-26","v":1.06,"t":"0,9%"},
{"k":"r","d":"2014-06-04","v":0.63,"t":"0,5%"},
{"k":"r","d":"2015-11-01","v":0.23,"t":"0,2%"},
{"k":"r","d":"2017-04-11","v":-0.05,"t":"- 0,1%"}
]
},
"layer":[
{"data":{"name":"o"},
 "mark":{"type":"line","strokeWidth":6.5,"strokeJoin":"round","strokeCap":"round"},
 "encoding":{
  "x":{"field":"d","type":"temporal","scale":{"domain":["2003-11-18","2023-12-26"]},
   "axis":{"values":[{"year":2003,"month":12,"date":1},{"year":2004,"month":12,"date":1},{"year":2005,"month":12,"date":1},{"year":2006,"month":12,"date":1},{"year":2007,"month":12,"date":1},{"year":2008,"month":12,"date":1},{"year":2009,"month":12,"date":1},{"year":2010,"month":12,"date":1},{"year":2011,"month":12,"date":1},{"year":2012,"month":12,"date":1},{"year":2013,"month":12,"date":1},{"year":2014,"month":12,"date":1},{"year":2015,"month":12,"date":1},{"year":2016,"month":12,"date":1},{"year":2017,"month":12,"date":1},{"year":2018,"month":12,"date":1},{"year":2019,"month":12,"date":1},{"year":2020,"month":12,"date":1},{"year":2021,"month":12,"date":1},{"year":2022,"month":12,"date":1},{"year":2023,"month":12,"date":1}],
    "format":"Dez. %y","labelAngle":-45,"labelAlign":"right","labelBaseline":"top","labelFontSize":24,"labelColor":"#595959","labelFont":"Lato",
    "grid":false,"domain":false,"ticks":false,"offset":-83,"labelPadding":21,"title":null,"labelOverlap":false,"labelBound":false,"labelFlush":false}},
  "y":{"field":"v","type":"quantitative","scale":{"domain":[-0.6,6],"nice":false,"zero":false},
   "axis":{"values":[0,1,2,3,4,5,6],"format":"d","grid":true,"gridColor":"#D9D9D9","gridWidth":2,"domain":false,"ticks":false,"labelFontSize":25,"labelColor":"#595959","labelFont":"Lato","labelPadding":23,"title":null,"labelFlush":false}},
  "color":{"datum":"Swap EUR (1 Jahr)","type":"nominal",
   "scale":{"domain":["Swap EUR (1 Jahr)","Swap EUR (10 Jahre)"],"range":["#F79646","#4F81BD"]},
   "legend":{"orient":"none","legendX":679,"legendY":887,"direction":"horizontal","title":null,"symbolType":"stroke","symbolSize":11025,"symbolStrokeWidth":8,"labelFontSize":27,"labelColor":"#7F7F7F","labelFont":"Lato","labelOffset":23,"columnPadding":199,"labelLimit":600,"padding":0}}
 }},
{"data":{"name":"b"},
 "mark":{"type":"line","strokeWidth":6.5,"strokeJoin":"round","strokeCap":"round"},
 "encoding":{
  "x":{"field":"d","type":"temporal"},
  "y":{"field":"v","type":"quantitative"},
  "color":{"datum":"Swap EUR (10 Jahre)","type":"nominal"}
 }},
{"data":{"name":"arrows"},"transform":[{"filter":"datum.k == 'r'"}],
 "mark":{"type":"rule","color":"#C0504D","strokeWidth":9},
 "encoding":{"x":{"field":"s","type":"temporal"},"x2":{"field":"e"},"y":{"field":"v","type":"quantitative"}}},
{"data":{"name":"arrows"},"transform":[{"filter":"datum.k == 'r'"}],
 "mark":{"type":"point","shape":"M-1.7,-1L0,0L-1.7,1","size":1600,"filled":false,"stroke":"#C0504D","strokeWidth":9,"strokeCap":"round","strokeJoin":"miter","opacity":1},
 "encoding":{"x":{"field":"e","type":"temporal"},"y":{"field":"v","type":"quantitative"}}},
{"data":{"name":"arrows"},"transform":[{"filter":"datum.k == 'g'"}],
 "mark":{"type":"rule","color":"#9BBB59","strokeWidth":9},
 "encoding":{"x":{"field":"s","type":"temporal"},"x2":{"field":"e"},"y":{"field":"v","type":"quantitative"}}},
{"data":{"name":"arrows"},"transform":[{"filter":"datum.k == 'g'"}],
 "mark":{"type":"point","shape":"M-1.7,-1L0,0L-1.7,1","size":1600,"filled":false,"stroke":"#9BBB59","strokeWidth":9,"strokeCap":"round","strokeJoin":"miter","opacity":1},
 "encoding":{"x":{"field":"e","type":"temporal"},"y":{"field":"v","type":"quantitative"}}},
{"data":{"name":"labels"},"transform":[{"filter":"datum.k == 'r'"}],
 "mark":{"type":"text","font":"Liberation Sans","fontWeight":"bold","fontSize":38,"color":"#C00000","align":"center","baseline":"middle"},
 "encoding":{"x":{"field":"d","type":"temporal"},"y":{"field":"v","type":"quantitative"},"text":{"field":"t"}}},
{"data":{"name":"labels"},"transform":[{"filter":"datum.k == 'g'"}],
 "mark":{"type":"text","font":"Liberation Sans","fontWeight":"bold","fontSize":38,"color":"#9BBB59","align":"center","baseline":"middle"},
 "encoding":{"x":{"field":"d","type":"temporal"},"y":{"field":"v","type":"quantitative"},"text":{"field":"t"}}}
]
}
